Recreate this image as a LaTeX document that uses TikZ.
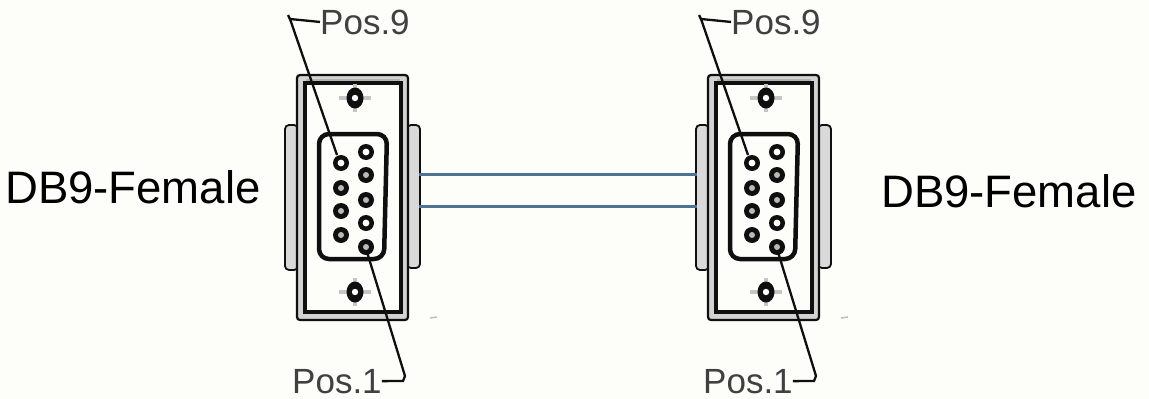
\documentclass[tikz,border=0pt]{standalone}
\usepackage{fontspec}
\setmainfont{Liberation Sans}
\definecolor{cable}{RGB}{80,114,146}
\definecolor{bg}{RGB}{253,253,250}
\definecolor{ink}{RGB}{15,15,15}
\newcommand\dbconn[2]{%
\begin{scope}[xshift=#2]
  % side tabs
  \filldraw[fill=gray!30, draw=ink, line width=1.8pt, rounded corners=4pt] (285,125) rectangle (298,270);
  \filldraw[fill=gray!30, draw=ink, line width=1.8pt, rounded corners=4pt] (407,125) rectangle (420,268);
  % frame
  \filldraw[fill=gray!35, draw=ink, line width=2.2pt, rounded corners=3pt] (297,75) rectangle (408,320);
  \filldraw[fill=bg, draw=ink, line width=4pt] (305,83) rectangle (401,312);
  \draw[gray!60, line width=1.5pt] (306,80) -- (400,80);
  % screws
  \pic at (355,98) {screw};
  \pic at (355,292) {screw};
  % D-shell
  \draw[ink, line width=4.5pt, rounded corners=10pt, fill=bg] (319,134) -- (387,134) -- (384,259) -- (319,259) -- cycle;
  % pins
  \pic at (341,163) {hpin};
  \pic at (341,188) {dpin};
  \pic at (341,211) {dpin};
  \pic at (341,235) {dpin};
  \pic at (366,152) {hpin};
  \pic at (366,175) {dpin};
  \pic at (366,200) {dpin};
  \pic at (366,223) {hpin};
  \pic at (366,247) {dpin};
  % scan mark
  \draw[gray!50, line width=1.5pt] (430,318) -- (437,317);
  % named points
  \coordinate (#1pin9) at (337,155);
  \coordinate (#1pin1) at (367,252);
  \coordinate (#1bend9) at (290,19);
  \coordinate (#1tick9) at (288,15);
  \coordinate (#1bend1) at (403,381);
  \coordinate (#1hook1) at (405,376);
  % labels
  \node[lbl, anchor=base west] (#1pos9) at (320,34) {Pos.9};
  \node[lbl, anchor=base west] (#1pos1) at (292,393) {Pos.1};
  % leaders
  \draw[leader] (#1pos9.west) -- (#1bend9) -- (#1pin9);
  \draw[leader] (#1bend9) -- (#1tick9);
  \draw[leader] (#1pos1.east) -- (#1bend1) -- (#1hook1) -- (#1pin1);
\end{scope}}
\begin{document}
\begin{tikzpicture}[x=1pt, y=-1pt,
  screw/.pic={
    \fill[gray!45] (-16,-2) rectangle (16,2);
    \fill[gray!45] (-2,-14) rectangle (2,14);
    \fill[ink] (0,0) ellipse [x radius=8.5pt, y radius=10.5pt];
    \fill[white] (0,0) circle [radius=3.2pt];
  },
  dpin/.pic={
    \fill[ink] (0,0) circle [radius=8pt];
    \fill[gray!55] (0,0) circle [radius=3pt];
  },
  hpin/.pic={
    \fill[ink] (0,0) circle [radius=8pt];
    \fill[white] (0,0) circle [radius=3.4pt];
  },
  lbl/.style={inner sep=0pt, text=black!75, font=\fontsize{35}{40}\selectfont},
  title/.style={inner sep=0pt, text=black, font=\fontsize{45.5}{50}\selectfont},
  leader/.style={draw=ink, line width=2.3pt},
  wire/.style={draw=cable, line width=3pt}]
  \fill[bg] (0,0) rectangle (1149,399);
  \useasboundingbox (0,0) rectangle (1149,399);

  \dbconn{L}{0pt}
  \dbconn{R}{411pt}

  \coordinate (Lp1) at (419,174);
  \coordinate (Lp2) at (419,206);
  \coordinate (Rp1) at (697,174);
  \coordinate (Rp2) at (697,206);
  \draw[wire] (Lp1) -- (Rp1);
  \draw[wire] (Lp2) -- (Rp2);

  \node[title, anchor=base west] (ltitle) at (5,203) {DB9-Female};
  \node[title, anchor=base west] (rtitle) at (881,207) {DB9-Female};
\end{tikzpicture}
\end{document}
